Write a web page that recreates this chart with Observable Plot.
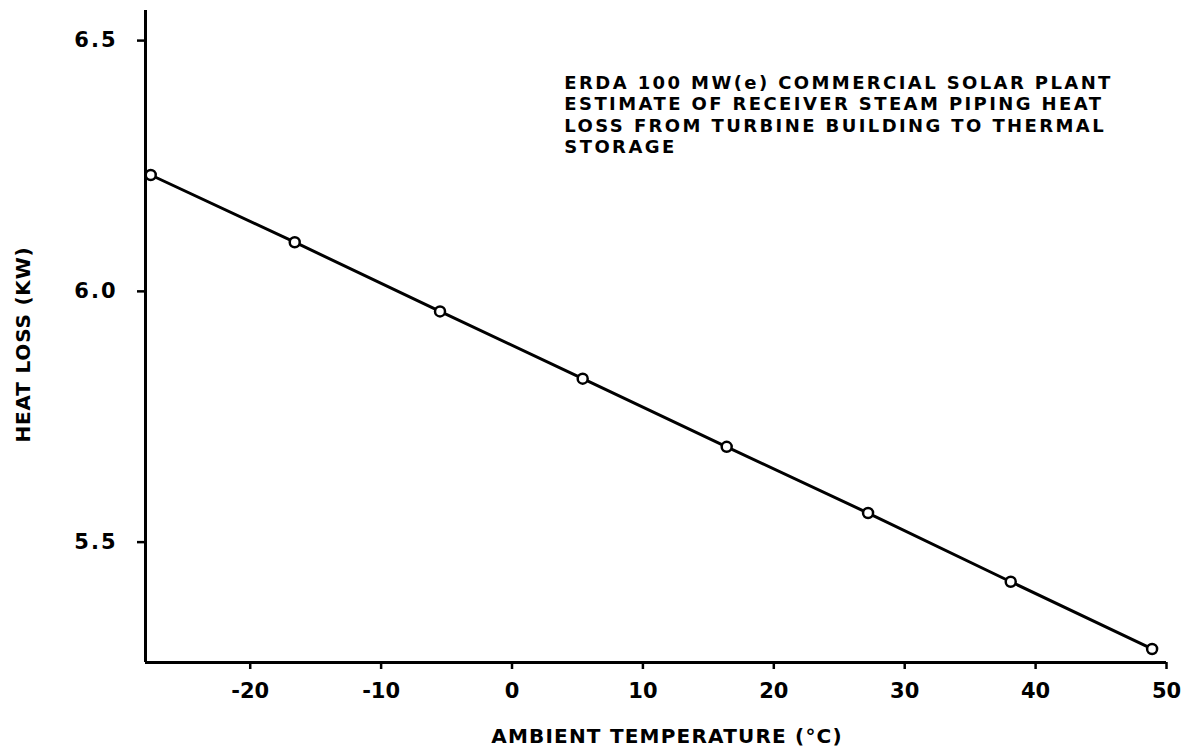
<!DOCTYPE html>
<html>
<head>
<meta charset="utf-8">
<script src="https://cdn.jsdelivr.net/npm/d3@7"></script>
<script src="https://cdn.jsdelivr.net/npm/@observablehq/plot@0.6"></script>
<style>
  html, body { margin: 0; padding: 0; background: #fff; }
  #chart svg { display: block; }
  text[aria-label="note"] { letter-spacing: 2.4px; }
  text[aria-label="xlabel"] { letter-spacing: 1.2px; }
  text[aria-label="ylabel"] { letter-spacing: 0.8px; }
  g[aria-label="y-axis tick label"] text { letter-spacing: 2px; }
</style>
</head>
<body>
<div id="chart"></div>
<script>
// Ambient temperature (°C) and heat loss (kW)
const temperature = [-27.6, -16.6, -5.5, 5.4, 16.4, 27.2, 38.1, 48.9];
const heatLoss    = [6.232, 6.098, 5.960, 5.826, 5.690, 5.558, 5.421, 5.287];
const xTicks = [-20, -10, 0, 10, 20, 30, 40, 50];
const yTicks = [5.5, 6.0, 6.5];
const noteLines = [
  "ERDA 100 MW(e) COMMERCIAL SOLAR PLANT",
  "ESTIMATE OF RECEIVER STEAM PIPING HEAT",
  "LOSS FROM TURBINE BUILDING TO THERMAL",
  "STORAGE"
];
const xLabel = "AMBIENT TEMPERATURE (°C)";
const yLabel = "HEAT LOSS (KW)";
const xDomain = [-28, 50];
const yDomain = [5.26, 6.56];
const notePos = {x: 4.0, y: 6.435};

const data = temperature.map((t, i) => ({t, h: heatLoss[i]}));
const font = "'DejaVu Sans', 'Liberation Sans', sans-serif";

const chart = Plot.plot({
  width: 1192,
  height: 753,
  marginLeft: 145,
  marginRight: 26,
  marginTop: 10,
  marginBottom: 91,
  style: {fontFamily: font, color: "#000", background: "#fff"},
  x: {domain: xDomain},
  y: {domain: yDomain},
  marks: [
    Plot.ruleX([xDomain[0]], {stroke: "#000", strokeWidth: 3}),
    Plot.ruleY([yDomain[0]], {stroke: "#000", strokeWidth: 3}),
    Plot.axisX(xTicks, {tickSize: 7, tickPadding: 14, fontSize: 21, fontWeight: "bold", strokeWidth: 2.5, label: null, tickFormat: d => d < 0 ? "-" + Math.abs(d) : String(d)}),
    Plot.axisY(yTicks, {tickSize: 8, tickPadding: 20, fontSize: 21, fontWeight: "bold", strokeWidth: 2.5, label: null, tickFormat: d3.format(".1f")}),
    Plot.text([xLabel], {text: d => d, ariaLabel: () => "xlabel", frameAnchor: "bottom", dy: 74, dx: 11, lineAnchor: "middle", textAnchor: "middle", fontSize: 20, fontWeight: "bold", fill: "#000"}),
    Plot.text([yLabel], {text: d => d, ariaLabel: () => "ylabel", frameAnchor: "left", dx: -122, dy: 8, rotate: -90, textAnchor: "middle", lineAnchor: "middle", fontSize: 20, fontWeight: "bold", fill: "#000"}),
    Plot.line(data, {x: "t", y: "h", stroke: "#000", strokeWidth: 3}),
    Plot.dot(data, {x: "t", y: "h", r: 5, fill: "#fff", stroke: "#000", strokeWidth: 2.5}),
    Plot.text([notePos], {x: "x", y: "y", ariaLabel: () => "note", text: () => noteLines.join("\n"), textAnchor: "start", lineAnchor: "top", lineHeight: 1.2, fontSize: 18, fontWeight: "bold", fill: "#000"})
  ]
});
document.getElementById("chart").appendChild(chart);
</script>
</body>
</html>
